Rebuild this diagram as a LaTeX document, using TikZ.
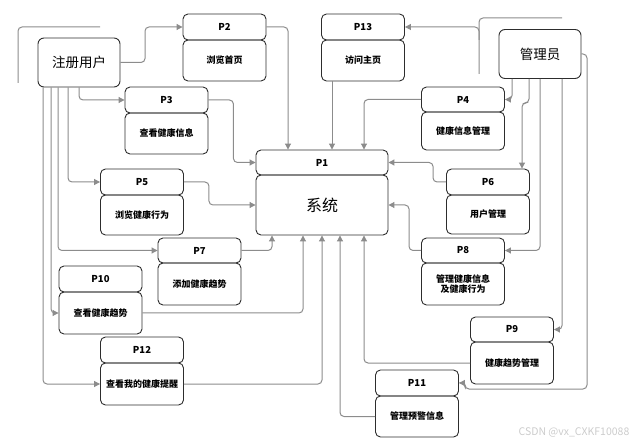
\documentclass[tikz,border=0pt]{standalone}
\usepackage{fontspec}
\setmainfont{Noto Sans CJK SC}
\usepackage{tikz}
\usetikzlibrary{arrows.meta}
\definecolor{linegray}{RGB}{140,140,140}
\definecolor{boxline}{RGB}{45,45,45}
\tikzstyle{head} = [draw=boxline, line width=0.9pt, rounded corners=5pt, minimum width=83pt, minimum height=26pt, inner sep=0pt, font=\fontsize{9.5}{11}\selectfont\bfseries]
\tikzstyle{body} = [draw=boxline, line width=0.9pt, rounded corners=5pt, minimum width=83pt, minimum height=41pt, inner sep=0pt, align=center, font=\fontsize{9}{10.5}\selectfont\bfseries]
\tikzstyle{actor} = [draw=boxline, line width=0.9pt, rounded corners=6pt, minimum width=82pt, minimum height=49pt, font=\fontsize{13.5}{15}\selectfont]
\tikzstyle{flow} = [draw=linegray, line width=1pt, rounded corners=4pt, -{Triangle[length=6pt,width=6pt]}]
\tikzstyle{loose} = [draw=linegray, line width=1pt, rounded corners=4pt]

\begin{document}
\begin{tikzpicture}[x=1pt, y=-1pt]
        \useasboundingbox (0,0) rectangle (642,443);
        % actors and system
        \node (user) [actor] at (79,62.5) {注册用户};
        \node (admin) [actor] at (540,54) {管理员};
        \node (p1h) [head, minimum width=132pt, minimum height=25pt] at (322,162.5) {P1};
        \node (p1) [body, minimum width=132pt, minimum height=60pt, font=\fontsize{16}{18}\selectfont] at (322,205) {系统};
        % processes
        \node (p2h) [head] at (224.5,27) {P2};
        \node (p2) [body] at (224.5,60.5) {浏览首页};
        \node (p3h) [head] at (166.5,100) {P3};
        \node (p3) [body] at (166.5,133.5) {查看健康信息};
        \node (p4h) [head, minimum height=25pt] at (463,99.5) {P4};
        \node (p4) [body, minimum height=38pt] at (463,131) {健康信息管理};
        \node (p5h) [head] at (142,182) {P5};
        \node (p5) [body, minimum height=40pt] at (142,215) {浏览健康行为};
        \node (p6h) [head] at (488,182) {P6};
        \node (p6) [body, minimum height=39pt] at (488,214.5) {用户管理};
        \node (p7h) [head, minimum height=25pt] at (199.5,250.5) {P7};
        \node (p7) [body, minimum height=42pt] at (199.5,284) {添加健康趋势};
        \node (p8h) [head, minimum height=25pt] at (463,250.5) {P8};
        \node (p8) [body, minimum height=42pt] at (463,284) {管理健康信息\\及健康行为};
        \node (p9h) [head, minimum height=25pt] at (512,329.5) {P9};
        \node (p9) [body, minimum height=42pt] at (512,363) {健康趋势管理};
        \node (p10h) [head] at (100.5,279) {P10};
        \node (p10) [body, minimum height=42pt] at (100.5,313) {查看健康趋势};
        \node (p11h) [head] at (417,383) {P11};
        \node (p11) [body] at (417,416.5) {管理预警信息};
        \node (p12h) [head] at (142,350) {P12};
        \node (p12) [body, minimum height=42pt] at (142,384) {查看我的健康提醒};
        \node (p13h) [head] at (363,27) {P13};
        \node (p13) [body] at (363,60.5) {访问主页};
        \node (mark) [font=\fontsize{10.5}{12}\selectfont, text=gray!40] at (574,432) {CSDN @vx\_CXKF10088};
        % loose ends
        \coordinate (loose1) at (18,83);
        \coordinate (loose2) at (100,27);
        \coordinate (loose3) at (479,74);
        \coordinate (loose4) at (479,40);
        \coordinate (loose5) at (562,18);
        \draw [loose] (loose1) |- (loose2);
        \draw [loose] (loose4) |- (loose5);
        \draw [flow] (loose3) |- (p13h.east);
        % registered user
        \draw [flow] (user.east) -- (145,62.5) |- (p2h.west);
        \draw [flow] (user.south) |- (p3h.west);
        \draw [flow] ([xshift=-11pt]user.south) |- (p5h.west);
        \draw [flow] ([xshift=-21pt]user.south) |- (p7h.west);
        \draw [flow] ([xshift=-28pt]user.south) |- (p10.west);
        \draw [flow] ([xshift=-36pt]user.south) |- (p12.west);
        % administrator
        \draw [flow] ([xshift=-28pt]admin.south) |- (p4h.east);
        \draw [flow] ([xshift=-11pt]admin.south) -- ++(0,24) -| ([xshift=34pt]p6h.north);
        \draw [flow] (admin.south) |- (p8h.east);
        \draw [flow] ([xshift=22pt]admin.south) |- (p9h.east);
        \draw [flow] (admin.east) -- (587,54) -- (587,389) -- (465,389) |- (p11h.east);
        % into the system
        \draw [flow] (p2h.east) -| ([xshift=-34pt]p1h.north);
        \draw [flow] ([xshift=-31pt]p13.south) -- ([xshift=-31pt]p13.south |- p1h.north);
        \draw [flow] (p4h.west) -| ([xshift=42pt]p1h.north);
        \draw [flow] (p3h.east) -- ++(25,0) |- (p1h.west);
        \draw [flow] (p5h.east) -- ++(25,0) |- (p1.west);
        \draw [flow] (p6h.west) -- ++(-13,0) |- (p1h.east);
        \draw [flow] (p8h.west) -- ++(-12,0) |- (p1.east);
        \draw [flow] (p7h.east) -| ([xshift=-50pt]p1.south);
        \draw [flow] (p10.east) -| ([xshift=-19pt]p1.south);
        \draw [flow] (p12.east) -| (p1.south);
        \draw [flow] (p11.west) -| ([xshift=18pt]p1.south);
        \draw [flow] (p9.west) -| ([xshift=42pt]p1.south);
\end{tikzpicture}
\end{document}
